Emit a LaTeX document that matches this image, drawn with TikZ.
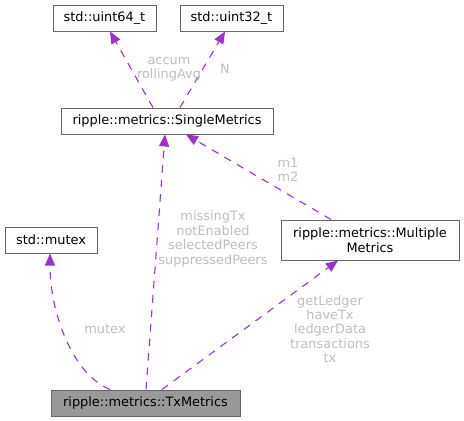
\documentclass[tikz,border=0pt]{standalone}
\usepackage{fontspec}
\setmainfont{DejaVu Sans}
\usepackage{tikz}
\usetikzlibrary{arrows.meta,positioning}
\definecolor{dxorchid}{HTML}{9A32CD}
\definecolor{dxlabel}{HTML}{BEBEBE}
\definecolor{dxframe}{HTML}{666666}
\definecolor{dxfill}{HTML}{999999}

\begin{document}
\begin{tikzpicture}[x=1pt,y=-1pt,font=\fontsize{12.9}{14.4}\selectfont,
  cls/.style={draw=dxframe,line width=1pt,rectangle,minimum height=26pt,inner sep=2pt,align=center},
  dep/.style={draw=dxorchid,line width=1.1pt,dash pattern=on 7.5pt off 7pt,-{Triangle[length=12pt,width=10pt]}},
  lbl/.style={text=dxlabel,align=center,inner sep=0pt}]
  \useasboundingbox (0,0) rectangle (464,421);
  \foreach \n/\x/\y/\w/\lab in {u64/104.5/18/103/{std::uint64\_t},u32/231.5/18/103/{std::uint32\_t},single/167/121/212/{ripple::metrics::SingleMetrics},mutex/51/240/92/{std::mutex}} {
    \node[cls,minimum width=\w] (\n) at (\x,\y) {\lab};
  }
  \node[cls,minimum width=178,minimum height=40] (multi) at (370,240) {ripple::metrics::Multiple\\Metrics};
  \node[cls,minimum width=189,fill=dxfill] (tx) at (145.5,403) {ripple::metrics::TxMetrics};

  \draw[dep] ([xshift=-14]single.north) -- ([xshift=5.5]u64.south);
  \draw[dep] ([xshift=13]single.north) -- ([xshift=-6.5]u32.south);
  \draw[dep] ([xshift=0.5]tx.north) -- ([xshift=-2]single.south);
  \draw[dep] ([xshift=-39]multi.north) -- ([xshift=19]single.south);
  \draw[dep] ([xshift=16.5]tx.north) -- ([xshift=-32]multi.south);
  \draw[dep] ([xshift=-35.5]tx.north) .. controls (72,374) and (50,312) .. ([xshift=-1]mutex.south);

  \node[lbl] (laccum) at (169,69) {accum\\rollingAvg};
  \node[lbl] (ln) at (225,69) {N};
  \node[lbl] (lmissing) at (213,239) {missingTx\\notEnabled\\selectedPeers\\suppressedPeers};
  \node[lbl] (lm) at (288,170) {m1\\m2};
  \node[lbl] (lget) at (330,329) {getLedger\\haveTx\\ledgerData\\transactions\\tx};
  \node[lbl] (lmutex) at (105,329) {mutex};
\end{tikzpicture}
\end{document}
